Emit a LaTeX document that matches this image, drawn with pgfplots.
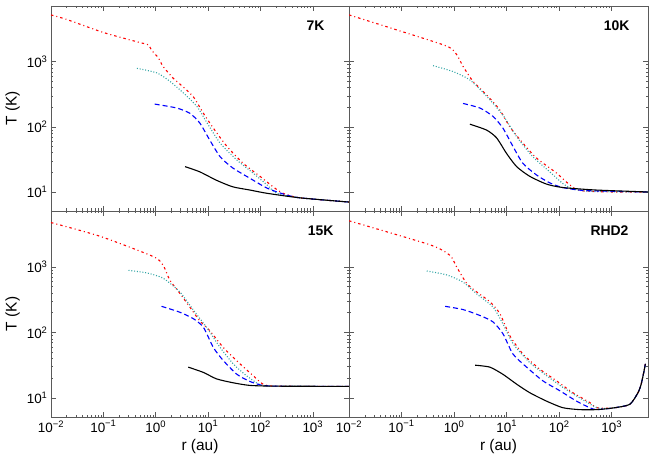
\documentclass[border=0pt]{standalone}
\usepackage{pgfplots}
\pgfplotsset{compat=1.18}
\usepackage{fontspec}
\setmainfont{Liberation Sans}
\definecolor{cT}{RGB}{50,165,165}
\definecolor{fr}{RGB}{90,90,90}
\pgfplotsset{
  every tick label/.append style={font=\fontsize{13.5}{15}\selectfont},
  every axis label/.append style={font=\fontsize{15.5}{17}\selectfont},
}
\tikzset{
  myrd/.style={red, line width=1.1pt, smooth, tension=0.4, dash pattern=on 2.5bp off 3bp on 1bp off 3bp},
  mycy/.style={cT, line width=1.1pt, smooth, tension=0.4, dash pattern=on 1bp off 1.8bp},
  mybl/.style={blue, line width=1.1pt, smooth, tension=0.4, dash pattern=on 5bp off 3bp},
  mybk/.style={black, line width=1.1pt, smooth, tension=0.4, solid},
}
\newcommand{\plab}[2]{\node[anchor=east, font=\bfseries\fontsize{14}{16}\selectfont, xshift=-#2, yshift=-20bp] at (rel axis cs:1,1) {#1};}
\begin{document}
\begin{tikzpicture}
% ---------- 7K (top left)
\begin{loglogaxis}[scale only axis, width=298bp, height=205bp, at={(51bp,250bp)}, anchor=south west,
    xmin=0.01, xmax=4900, ymin=5.1, ymax=7200,
    axis line style={fr, line width=0.9pt}, tick style={fr, line width=0.6pt},
    major tick length=5bp, minor tick length=2.5bp, tick align=inside, xtick pos=both, ytick pos=both,
    xtick={0.01,0.1,1,10,100,1000}, ytick={10,100,1000},
    xticklabels={}, yticklabels={10\textsuperscript{1},10\textsuperscript{2},10\textsuperscript{3}}, ylabel={T (K)}]
\addplot[myrd] coordinates {(0.01,5250) (0.02,4470) (0.1,2820) (0.47,2000) (0.72,1820) (0.83,1510) (1.12,1150) (1.38,850) (2.14,562) (3.39,407) (5.25,288) (8.13,162) (12.6,95.5) (22.9,50.1) (46.8,27.5) (97.7,17.4) (174,12.0) (269,9.55) (562,8.13) (4900,7.0)};
\addplot[mycy] coordinates {(0.437,794) (1.05,676) (1.86,501) (3.39,331) (6.17,204) (9.55,115) (17.0,56.2) (35.5,30.9) (72.4,19.5) (132,12.9) (204,9.55) (562,8.13) (4900,7.0)};
\addplot[mybl] coordinates {(0.955,224) (2.51,195) (4.47,162) (6.92,115) (10.7,63.1) (17.0,34.7) (29.5,23.4) (63.1,16.2) (132,11.5) (269,9.33) (562,8.13) (4900,7.0)};
\addplot[mybk] coordinates {(3.63,24.5) (6.92,20.4) (14.5,15.1) (29.5,12.0) (63.1,10.7) (132,9.55) (562,8.13) (4900,7.0)};
\plab{7K}{21bp}
\end{loglogaxis}
% ---------- 10K (top right)
\begin{loglogaxis}[scale only axis, width=299bp, height=205bp, at={(349bp,250bp)}, anchor=south west,
    xmin=0.01, xmax=4900, ymin=5.1, ymax=7200,
    axis line style={fr, line width=0.9pt}, tick style={fr, line width=0.6pt},
    major tick length=5bp, minor tick length=2.5bp, tick align=inside, xtick pos=both, ytick pos=both,
    xtick={0.01,0.1,1,10,100,1000}, ytick={10,100,1000},
    xticklabels={}, yticklabels={}]
\addplot[myrd] coordinates {(0.01,5250) (0.081,3090) (0.724,1740) (1.12,1290) (1.48,851) (2.29,501) (4.17,309) (7.41,182) (11.5,100) (20.4,56.2) (37.2,33.1) (89.1,19.5) (158,12.9) (251,10.5) (1000,10) (4900,10)};
\addplot[mycy] coordinates {(0.398,871) (0.955,708) (2.0,525) (4.17,295) (8.51,151) (15.5,70.8) (31.6,34.7) (66.1,20.4) (117,13.5) (178,11.2) (398,10.2) (4900,10)};
\addplot[mybl] coordinates {(1.48,229) (3.09,195) (5.5,145) (8.51,95.5) (13.2,50.1) (20.4,27.5) (37.2,18.2) (66.1,13.8) (117,11.7) (316,10.5) (4900,10)};
\addplot[mybk] coordinates {(2.0,110) (4.17,89.1) (6.46,67.6) (10,38.9) (15.5,24.5) (27.5,17.4) (57.5,13.2) (117,11.7) (513,10.7) (4900,10)};
\plab{10K}{15bp}
\end{loglogaxis}
% ---------- 15K (bottom left)
\begin{loglogaxis}[scale only axis, width=298bp, height=206bp, at={(51bp,44bp)}, anchor=south west,
    xmin=0.01, xmax=4900, ymin=5.1, ymax=7200,
    axis line style={fr, line width=0.9pt}, tick style={fr, line width=0.6pt},
    major tick length=5bp, minor tick length=2.5bp, tick align=inside, xtick pos=both, ytick pos=both,
    xtick={0.01,0.1,1,10,100,1000}, ytick={10,100,1000},
    xticklabels={10\textsuperscript{−2},10\textsuperscript{−1},10\textsuperscript{0},10\textsuperscript{1},10\textsuperscript{2},10\textsuperscript{3}}, xlabel={r (au)},
    yticklabels={10\textsuperscript{1},10\textsuperscript{2},10\textsuperscript{3}}, ylabel={T (K)}]
\addplot[myrd] coordinates {(0.01,4790) (0.087,2950) (0.891,1450) (1.38,1070) (1.86,631) (2.88,398) (4.47,245) (6.92,151) (10.7,107) (19.5,58.9) (40.7,33.1) (72.4,21.9) (112,16.2) (200,15.1) (4900,15)};
\addplot[mycy] coordinates {(0.302,891) (0.676,813) (1.38,676) (2.88,417) (5.25,219) (9.33,120) (17.0,58.9) (30.2,33.1) (53.7,21.9) (100,15.8) (200,15.1) (4900,15)};
\addplot[mybl] coordinates {(1.29,251) (2.88,204) (5.25,162) (8.13,120) (12.6,58.9) (19.5,37.2) (35.5,22.9) (63.1,17.8) (112,15.5) (316,15.0) (4900,15)};
\addplot[mybk] coordinates {(4.17,29.5) (8.13,24.5) (14.5,19.5) (30.2,17.0) (63.1,15.5) (200,15.1) (4900,15)};
\plab{15K}{12bp}
\end{loglogaxis}
% ---------- RHD2 (bottom right)
\begin{loglogaxis}[scale only axis, width=299bp, height=206bp, at={(349bp,44bp)}, anchor=south west,
    xmin=0.01, xmax=4900, ymin=5.1, ymax=7200,
    axis line style={fr, line width=0.9pt}, tick style={fr, line width=0.6pt},
    major tick length=5bp, minor tick length=2.5bp, tick align=inside, xtick pos=both, ytick pos=both,
    xtick={0.01,0.1,1,10,100,1000}, ytick={10,100,1000},
    xticklabels={10\textsuperscript{−2},10\textsuperscript{−1},10\textsuperscript{0},10\textsuperscript{1},10\textsuperscript{2},10\textsuperscript{3}}, xlabel={r (au)},
    yticklabels={}]
\addplot[myrd] coordinates {(0.01,5100) (0.347,2190) (0.832,1510) (1.12,1000) (1.74,562) (2.69,417) (4.79,295) (7.41,195) (11.5,89.1) (20.4,46.8) (42.7,27.5) (89.1,18.2) (182,12.0) (380,8.51) (513,7.08) (1047,7.0) (2190,7.94) (3160,12.0) (3630,16.2) (4070,24.5) (4370,33.1)};
\addplot[mycy] coordinates {(0.302,871) (0.724,759) (1.48,589) (2.69,389) (5.5,245) (8.51,135) (13.2,67.6) (27.5,34.7) (57.5,21.9) (117,14.5) (245,10.0) (437,7.59) (589,6.92) (1047,7.0) (2190,7.94) (3160,12.0) (3630,16.2) (4070,24.5) (4370,33.1)};
\addplot[mybl] coordinates {(0.676,251) (1.48,224) (3.09,182) (5.5,145) (8.51,95.5) (13.2,46.8) (24.0,29.5) (49.0,18.2) (102,12.9) (214,8.91) (380,7.08) (513,6.61) (1047,7.0) (2190,7.94) (3160,12.0) (3630,16.2) (4070,24.5) (4370,33.1)};
\addplot[mybk] coordinates {(2.51,31.6) (4.79,29.5) (8.51,22.9) (15.5,16.2) (27.5,12.0) (57.5,8.91) (117,7.08) (245,6.61) (513,6.61) (1047,7.0) (2190,7.94) (3160,12.0) (3630,16.2) (4070,24.5) (4370,33.1)};
\plab{RHD2}{16bp}
\end{loglogaxis}
\pgfresetboundingbox
\path (0bp,0bp) rectangle (654bp,461bp);
\end{tikzpicture}
\end{document}
